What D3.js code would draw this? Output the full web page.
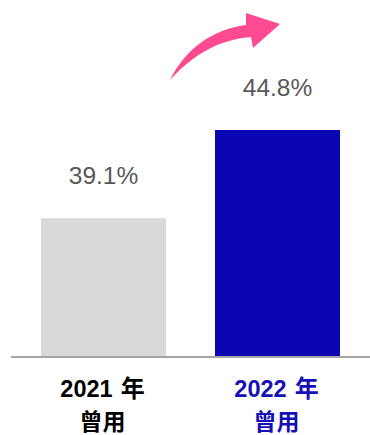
<!DOCTYPE html>
<html>
<head>
<meta charset="utf-8">
<script src="https://cdn.jsdelivr.net/npm/d3@7"></script>
<style>
  html, body { margin: 0; padding: 0; background: #fff; }
  svg { display: block; }
</style>
</head>
<body>
<svg id="chart" width="370" height="435"></svg>
<script>
// Usage share by year
const years = ["2021", "2022"];
const shares = [39.1, 44.8];
const yearSuffix = "年";
const subLabel = "曾用";
const barColors = ["#d9d9d9", "#0a06b4"];
const labelColors = ["#000000", "#1610b6"];

const svg = d3.select("#chart");
const baseY = 356;

const x = d3.scaleBand()
  .domain(years)
  .range([41, 340])
  .paddingInner(0.2816)
  .paddingOuter(0);

const y = d3.scaleLinear()
  .domain([30.2, 44.8])
  .range([baseY, 130]);

const data = years.map((yr, i) => ({ year: yr, value: shares[i], i }));

// Bars
svg.append("g").selectAll("rect")
  .data(data)
  .join("rect")
  .attr("x", d => x(d.year))
  .attr("y", d => y(d.value))
  .attr("width", x.bandwidth())
  .attr("height", d => baseY - y(d.value))
  .attr("fill", d => barColors[d.i]);

// Baseline
svg.append("line")
  .attr("x1", 11).attr("x2", 370)
  .attr("y1", baseY + 1).attr("y2", baseY + 1)
  .attr("stroke", "#a6a6a6")
  .attr("stroke-width", 2);

// Value labels
svg.append("g").selectAll("text")
  .data(data)
  .join("text")
  .attr("x", d => x(d.year) + x.bandwidth() / 2)
  .attr("y", d => y(d.value) - 34.5)
  .attr("text-anchor", "middle")
  .attr("font-family", "'Liberation Sans', Arial, sans-serif")
  .attr("font-size", 24.5)
  .attr("fill", "#595959")
  .text(d => d.value.toFixed(1) + "%");

// Category labels (two lines)
const cat = svg.append("g").selectAll("g")
  .data(data)
  .join("g")
  .attr("transform", d => `translate(${x(d.year) + x.bandwidth() / 2 - 1},0)`)
  .attr("fill", d => labelColors[d.i])
  .attr("font-weight", "bold")
  .attr("text-anchor", "middle");

const line1 = cat.append("text")
  .attr("y", 397)
  .attr("font-family", "'Liberation Sans', Arial, sans-serif")
  .attr("font-size", 23.5);
line1.append("tspan").text(d => d.year);
line1.append("tspan")
  .attr("dx", 8)
  .attr("font-family", "'Noto Sans CJK TC', sans-serif")
  .attr("font-size", 24)
  .text(yearSuffix);

cat.append("text")
  .attr("y", 429.5)
  .attr("font-family", "'Noto Sans CJK TC', sans-serif")
  .attr("font-size", 23)
  .text(subLabel);

// Growth arrow
svg.append("path")
  .attr("d", "M170,80 C185,50 210,30 246,25 L246,13 L280,24 L253,48 L251,37 C215,40 190,58 170,80 Z")
  .attr("fill", "#fe4a91");
</script>
</body>
</html>
